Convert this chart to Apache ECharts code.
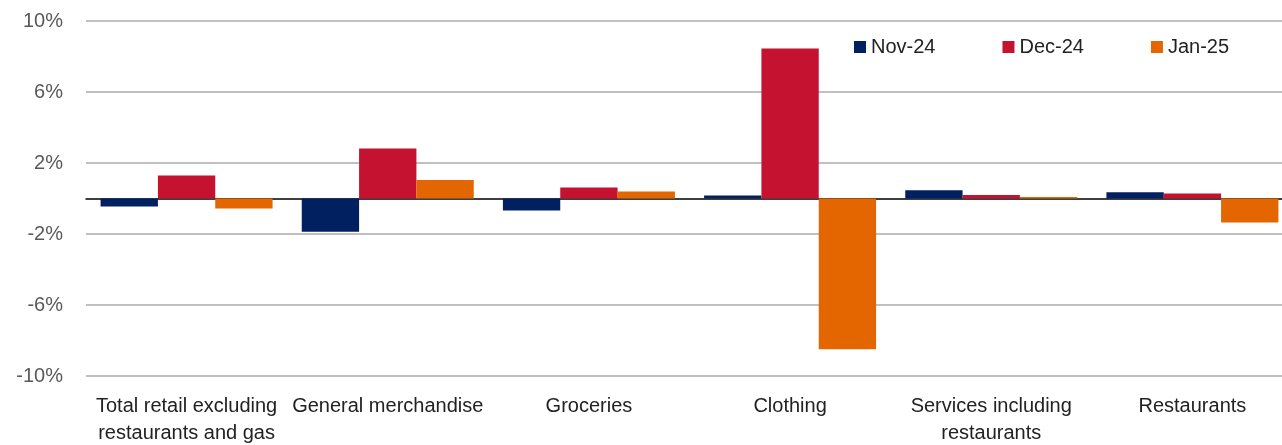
<!DOCTYPE html>
<html>
<head>
<meta charset="utf-8">
<script src="https://cdn.jsdelivr.net/npm/echarts@6/dist/echarts.min.js"></script>
<style>
html,body{margin:0;padding:0;background:#fff;overflow:hidden;}
#chart{width:1282px;height:445px;}
</style>
</head>
<body>
<div id="chart"></div>
<script>
const categories = ['Total retail excluding\nrestaurants and gas', 'General merchandise', 'Groceries', 'Clothing', 'Services including\nrestaurants', 'Restaurants'];
const seriesNames = ['Nov-24', 'Dec-24', 'Jan-25'];
const nov24 = [-0.45, -1.88, -0.68, 0.17, 0.47, 0.35];
const dec24 = [1.3, 2.82, 0.62, 8.45, 0.2, 0.28];
const jan25 = [-0.56, 1.04, 0.39, -8.49, 0.08, -1.35];
const colors = ['#002060', '#C41230', '#E36600'];

const chart = echarts.init(document.getElementById('chart'), null, {renderer: 'canvas'});
const font = 'Liberation Sans, Arial, sans-serif';
const dataSets = [nov24, dec24, jan25];
chart.setOption({
  animation: false,
  color: colors,
  legend: {
    data: seriesNames,
    top: 32,
    left: 849,
    itemGap: 67,
    itemWidth: 12,
    itemHeight: 12,
    icon: 'rect',
    textStyle: {fontFamily: font, fontSize: 20, color: '#222'}
  },
  grid: {left: 86, width: 1207, top: 21, bottom: 69, containLabel: false, outerBoundsMode: 'none'},
  xAxis: {
    type: 'category',
    data: categories,
    axisLine: {onZero: true, lineStyle: {color: '#000', width: 1.5}},
    axisTick: {show: false},
    axisLabel: {
      position: 'bottom',
      interval: 0,
      fontFamily: font,
      fontSize: 20,
      color: '#222',
      lineHeight: 27,
      margin: 17
    }
  },
  yAxis: {
    type: 'value',
    min: -10,
    max: 10,
    interval: 4,
    axisLine: {show: false},
    axisTick: {show: false},
    splitLine: {lineStyle: {color: '#c0c0c0', width: 2}},
    axisLabel: {
      formatter: v => v + '%',
      fontFamily: font,
      fontSize: 20,
      color: '#595959',
      margin: 23
    }
  },
  series: seriesNames.map((n, i) => ({
    name: n,
    type: 'bar',
    data: dataSets[i],
    barGap: '0%',
    barCategoryGap: '14.5%',
    itemStyle: {color: colors[i]}
  }))
});
</script>
</body>
</html>
